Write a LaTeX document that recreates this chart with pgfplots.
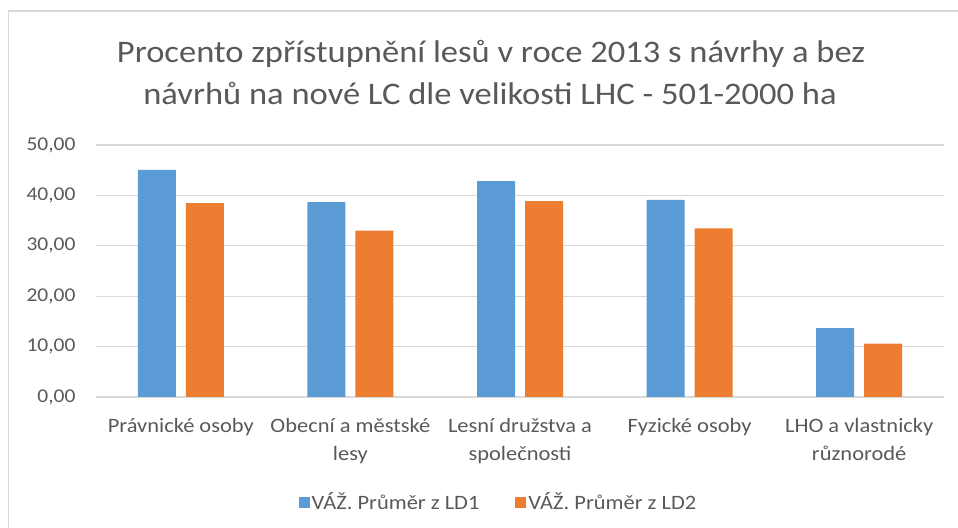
\documentclass[border=0pt]{standalone}
\usepackage{pgfplots}
\pgfplotsset{compat=1.18}
\usepackage{fontspec}
\setmainfont[FakeStretch=1.1]{Carlito}
\definecolor{cblue}{HTML}{5B9BD5}
\definecolor{corange}{HTML}{ED7D31}
\definecolor{txt}{HTML}{595959}
\definecolor{gridgray}{HTML}{D9D9D9}
\begin{document}
\begin{tikzpicture}[x=1bp,y=1bp]
\useasboundingbox (0,0) rectangle (958,528);
\draw[gridgray, line width=1.2bp] (8.5,-100) -- (8.5,517) -- (2000,517);
\node[txt, anchor=base, font=\fontsize{31.5}{38}\selectfont] at (491,465) {Procento zpřístupnění lesů v roce 2013 s návrhy a bez};
\node[txt, anchor=base, font=\fontsize{31.5}{38}\selectfont] at (490,423) {návrhů na nové LC dle velikosti LHC - 501-2000 ha};
\begin{axis}[
  at={(96bp,131bp)}, anchor=south west,
  scale only axis, width=848bp, height=252bp,
  ybar=10bp, bar width=38bp,
  xmin=-0.5, xmax=4.5, ymin=0, ymax=50,
  ytick={0,10,...,50},
  xtick={0,1,2,3,4},
  xticklabels={Právnické osoby, Obecní a městské\\lesy, Lesní družstva a\\společnosti, Fyzické osoby, LHO a vlastnicky\\různorodé},
  xticklabel style={align=center, font=\fontsize{20.5}{28}\selectfont, text=txt, anchor=north, yshift=-18bp},
  yticklabel style={font=\fontsize{19.6}{22}\selectfont, text=txt, xshift=-17bp},
  /pgf/number format/.cd, fixed, fixed zerofill, precision=2, use comma, assume math mode=true,
  /pgfplots/.cd,
  axis line style={draw=none},
  major tick length=0pt,
  xmajorgrids=false,
  ymajorgrids=true, grid style={draw=gridgray, line width=1.2bp},
  legend style={at={(0.4746,-0.4167)}, anchor=center, draw=none, fill=none,
    font=\fontsize{20.5}{24}\selectfont, text=txt,
    legend columns=2,
    /tikz/every even column/.append style={column sep=34bp},
    /tikz/every odd column/.append style={column sep=0bp},
    nodes={inner xsep=2bp}},
  legend image code/.code={\fill[#1] (0bp,-5.5bp) rectangle (11bp,5.5bp);},
]
\addplot[fill=cblue, draw=none] coordinates {(0,45.05) (1,38.65) (2,42.85) (3,39.1) (4,13.65)};
\addplot[fill=corange, draw=none] coordinates {(0,38.45) (1,33.0) (2,38.85) (3,33.45) (4,10.6)};
\legend{VÁŽ. Průměr z LD1, VÁŽ. Průměr z LD2}
\end{axis}
\end{tikzpicture}
\end{document}
